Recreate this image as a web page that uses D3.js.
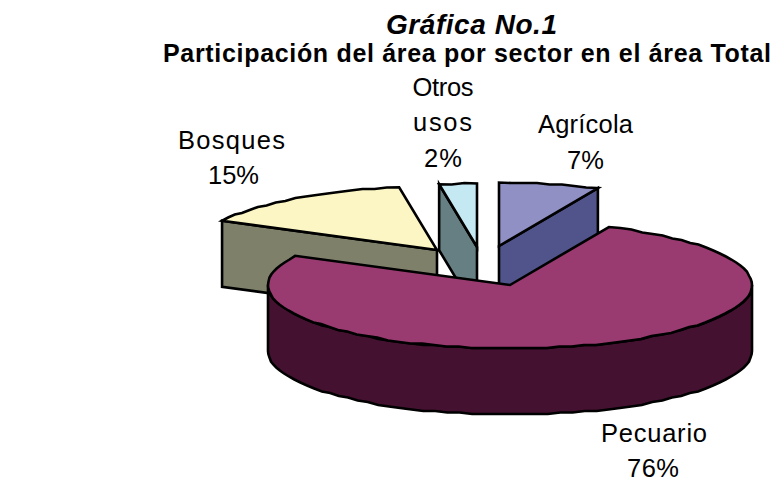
<!DOCTYPE html>
<html>
<head>
<meta charset="utf-8">
<script src="https://cdnjs.cloudflare.com/ajax/libs/d3/7.8.5/d3.min.js"></script>
<style>
html,body{margin:0;padding:0;background:#fff}
svg{display:block}
text{font-family:"Liberation Sans",Arial,sans-serif;fill:#000}
</style>
</head>
<body>
<svg id="chart" width="775" height="479"></svg>
<script>
// --- data ---
const categories = ["Agrícola", "Pecuario", "Bosques", "Otros usos"];
const shareValues = [6.7, 75.9, 14.9, 2.5];
const shareLabels = ["7%", "76%", "15%", "2%"];  // as printed
const titleText = "Gráfica No.1";
const subtitleText = "Participación del área por sector en el área Total";

// --- styles / layout ---
const topColors  = ["#9090c4", "#993a70", "#fbf6c4", "#c5e9f2"];
const wallColors = ["#50548a", "#451131", "#7e806a", "#667f82"];
const apex = [[499, 246], [510, 285], [437, 250], [477, 247]];
const labelLines = [
  {t: categories[0], x: 585.5, y: 133, w: 95},
  {t: shareLabels[0], x: 585.5, y: 169, w: 37},
  {t: categories[1], x: 654, y: 442, w: 106},
  {t: shareLabels[1], x: 653, y: 477, w: 52},
  {t: categories[2], x: 231.5, y: 149, w: 107},
  {t: shareLabels[2], x: 233.5, y: 184, w: 51},
  {t: "Otros", x: 443, y: 96, w: 61},
  {t: "usos", x: 442.5, y: 131, w: 59},
  {t: shareLabels[3], x: 443, y: 167, w: 38}
];
const depth = 66;
const arcStep = Math.PI / 60;
const grid = 1.5;

const svg = d3.select("#chart");
const sx = d3.scaleLinear().domain([-1, 1]).range([-242, 242]);
const sy = d3.scaleLinear().domain([-1, 1]).range([-63.5, 63.5]);

const pie = d3.pie().sort(null).value(d => d);
const arcs = pie(shareValues);

const line = d3.line().curve(d3.curveLinearClosed);
const onRim = (a, c, dy = 0) => [c[0] + sx(Math.sin(a)), c[1] - sy(Math.cos(a)) + dy];
function rim(a0, a1, c, dy = 0) {
  const n = Math.max(1, Math.round(Math.abs(a1 - a0) / arcStep));
  return d3.range(n + 1).map(i => {
    const p = onRim(a0 + (a1 - a0) * i / n, c, dy);
    return (i === 0 || i === n) ? p : [p[0], Math.round(p[1] / grid) * grid];
  });
}

function drawPoly(points, fill) {
  svg.append("path")
    .attr("d", line(points))
    .attr("fill", fill)
    .attr("stroke", "#000")
    .attr("stroke-width", 2.6)
    .attr("stroke-linejoin", "miter");
}

function drawSlice(i) {
  const s = arcs[i], c = apex[i];
  if (i === 1) {
    // outer wall of the big slice: front half of the rim
    const front = rim(Math.PI / 2, 3 * Math.PI / 2, c);
    const back = rim(3 * Math.PI / 2, Math.PI / 2, c, depth);
    drawPoly(front.concat(back), wallColors[i]);
  } else {
    // cut face that looks towards the viewer
    const a = i === 0 ? s.endAngle : s.startAngle;
    const edge = onRim(a, c);
    drawPoly([c, edge, [edge[0], edge[1] + depth], [c[0], c[1] + depth]], wallColors[i]);
  }
  drawPoly([c].concat(rim(s.startAngle, s.endAngle, c)), topColors[i]);
}

[2, 3, 0, 1].forEach(drawSlice);

// --- text ---
svg.append("text").attr("x", 471.5).attr("y", 34).attr("text-anchor", "middle")
  .attr("font-size", 28).attr("font-weight", "bold").attr("font-style", "italic")
  .attr("textLength", 171).attr("lengthAdjust", "spacing").text(titleText);
svg.append("text").attr("x", 467).attr("y", 62).attr("text-anchor", "middle")
  .attr("font-size", 25).attr("font-weight", "bold")
  .attr("textLength", 608).attr("lengthAdjust", "spacing").text(subtitleText);

labelLines.forEach(d => {
  svg.append("text").attr("x", d.x).attr("y", d.y).attr("text-anchor", "middle")
    .attr("font-size", 25.5)
    .attr("textLength", d.w).attr("lengthAdjust", "spacing").text(d.t);
});
</script>
</body>
</html>
